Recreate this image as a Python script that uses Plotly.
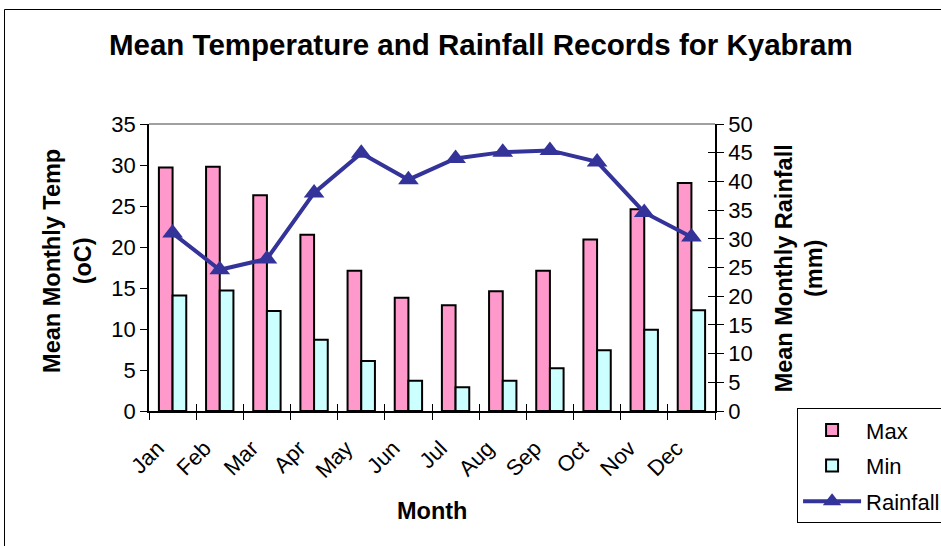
import plotly.graph_objects as go

# Monthly climate records for Kyabram
months = ["Jan", "Feb", "Mar", "Apr", "May", "Jun",
          "Jul", "Aug", "Sep", "Oct", "Nov", "Dec"]
temp_max = [29.7, 29.8, 26.3, 21.5, 17.1, 13.8, 12.9, 14.6, 17.1, 20.9, 24.6, 27.8]
temp_min = [14.1, 14.7, 12.2, 8.7, 6.1, 3.7, 2.9, 3.7, 5.2, 7.4, 9.9, 12.3]
rainfall = [31.0, 24.6, 26.5, 38.0, 44.9, 40.3, 44.0, 45.1, 45.4, 43.4, 34.6, 30.3]

FONT = "Liberation Sans, Arial, sans-serif"
PINK = "#FF99CC"
CYAN = "#CCFFFF"
NAVY = "#333399"

fig = go.Figure()

fig.add_trace(go.Bar(
    x=months, y=temp_max, name="Max",
    marker=dict(color=PINK, line=dict(color="black", width=2)),
    legendgroup="a",
))
fig.add_trace(go.Bar(
    x=months, y=temp_min, name="Min",
    marker=dict(color=CYAN, line=dict(color="black", width=2)),
    legendgroup="b",
))
fig.add_trace(go.Scatter(
    x=months, y=rainfall, name="Rainfall", yaxis="y2",
    mode="lines+markers",
    line=dict(color=NAVY, width=4),
    marker=dict(symbol="triangle-up", size=18, color=NAVY),
    legendgroup="c",
))
# Empty helper traces so the overlay axes (inner tick marks) are drawn
fig.add_trace(go.Scatter(x=[], y=[], xaxis="x2", yaxis="y", showlegend=False, hoverinfo="skip"))
fig.add_trace(go.Scatter(x=[], y=[], xaxis="x", yaxis="y3", showlegend=False, hoverinfo="skip"))

tick_font = dict(family=FONT, size=22, color="black")
bold = dict(family=FONT, size=23.5, color="black")

fig.update_layout(
    width=941, height=546,
    margin=dict(l=149, r=226, t=124, b=135, autoexpand=False),
    paper_bgcolor="white", plot_bgcolor="white",
    barmode="group", bargap=0.42, bargroupgap=0,
    title=dict(
        text="<b>Mean Temperature and Rainfall Records for Kyabram</b>",
        x=0.511, xanchor="center", y=0.918, yanchor="middle",
        font=dict(family=FONT, size=29.5, color="black"),
    ),
    xaxis=dict(
        type="category", categoryorder="array", categoryarray=months,
        tickson="boundaries", ticks="outside", ticklen=7, tickcolor="black",
        tickwidth=1, showline=True, linecolor="black", linewidth=1.5,
        tickangle=-45, tickfont=tick_font, showgrid=False, zeroline=False,
        range=[-0.5, 11.5], ticklabelstandoff=14, ticklabelshift=-15,
        automargin=False,
    ),
    xaxis2=dict(
        overlaying="x", anchor="y", range=[0, 12], dtick=1, tick0=0,
        ticks="inside", ticklen=7, tickcolor="black", tickwidth=1,
        showticklabels=False, showgrid=False, zeroline=False, showline=False,
    ),
    yaxis=dict(
        range=[0, 35], dtick=5, ticks="outside", ticklen=7, tickcolor="black",
        showline=True, linecolor="black", linewidth=1.5, tickfont=tick_font,
        showgrid=False, zeroline=False, automargin=False,
    ),
    yaxis2=dict(
        overlaying="y", side="right", anchor="x", range=[0, 50], dtick=5,
        ticks="outside", ticklen=7, tickcolor="black", showline=True,
        linecolor="black", linewidth=1.5, tickfont=tick_font,
        showgrid=False, zeroline=False, automargin=False,
    ),
    yaxis3=dict(
        overlaying="y", side="right", anchor="x", range=[0, 50], dtick=5,
        ticks="inside", ticklen=7, tickcolor="black", showticklabels=False,
        showgrid=False, zeroline=False, showline=False,
    ),
    legend=dict(
        x=1.145, xanchor="left", y=0.01, yanchor="top",
        bordercolor="black", borderwidth=1, bgcolor="white",
        font=dict(family=FONT, size=22, color="black"),
        traceorder="grouped", tracegroupgap=4, itemwidth=58,
    ),
    annotations=[
        dict(text="<b>Mean Monthly Temp<br>(oC)</b>", textangle=-90,
             xref="paper", yref="paper", x=(68 - 149) / 566, y=0.523,
             xanchor="center", yanchor="middle", showarrow=False, font=bold),
        dict(text="<b>Mean Monthly Rainfall<br>(mm)</b>", textangle=-90,
             xref="paper", yref="paper", x=(799 - 149) / 566, y=0.497,
             xanchor="center", yanchor="middle", showarrow=False, font=bold),
        dict(text="<b>Month</b>", xref="paper", yref="paper",
             x=(432 - 149) / 566, y=(411 - 511) / 287,
             xanchor="center", yanchor="middle", showarrow=False, font=bold),
    ],
    shapes=[
        # plot area top edge
        dict(type="line", xref="paper", yref="paper", x0=0, x1=1, y0=1, y1=1,
             line=dict(color="#808080", width=1.5)),
        # chart area frame
        dict(type="rect", xref="paper", yref="paper",
             x0=(4.5 - 149) / 566, x1=(960 - 149) / 566,
             y0=(411 - 560) / 287, y1=(411 - 9.5) / 287,
             line=dict(color="black", width=1)),
    ],
)

fig.write_html("out.html")
